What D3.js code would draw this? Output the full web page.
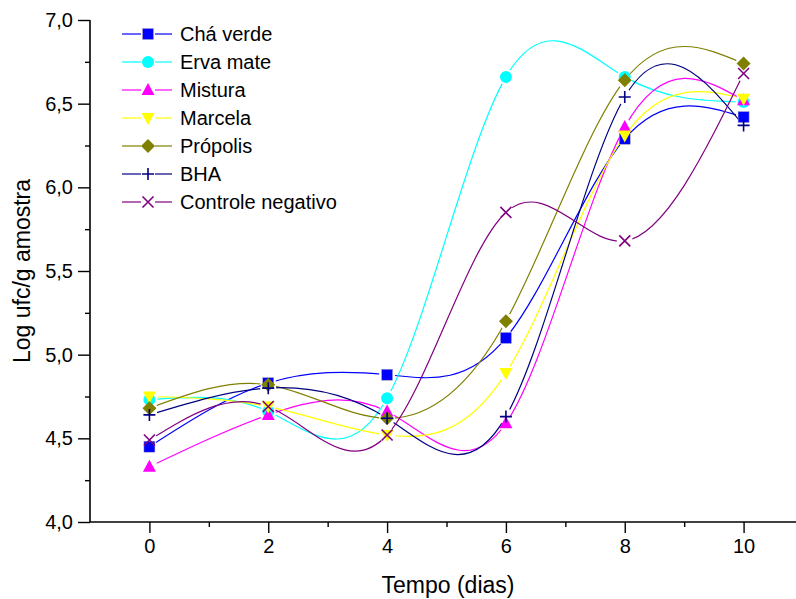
<!DOCTYPE html>
<html><head><meta charset="utf-8">
<script src="https://cdn.jsdelivr.net/npm/d3@7"></script>
<style>body{margin:0;background:#fff}svg{display:block}text{font-family:"Liberation Sans",Arial,sans-serif}</style>
</head><body>
<script>
const days = [0, 2, 4, 6, 8, 10];
const seriesNames = ["Chá verde","Erva mate","Mistura","Marcela","Própolis","BHA","Controle negativo"];
const chaVerde  = [4.45, 4.83, 4.88, 5.10, 6.29, 6.42];
const ervaMate  = [4.73, 4.66, 4.74, 6.66, 6.66, 6.51];
const mistura   = [4.33, 4.64, 4.66, 4.59, 6.36, 6.52];
const marcela   = [4.75, 4.69, 4.52, 4.89, 6.31, 6.53];
const propolis  = [4.68, 4.82, 4.62, 5.20, 6.64, 6.74];
const bha       = [4.64, 4.80, 4.62, 4.63, 6.54, 6.37];
const controle  = [4.49, 4.69, 4.52, 5.85, 5.68, 6.68];
const seriesValues = [chaVerde, ervaMate, mistura, marcela, propolis, bha, controle];
const colors = ["#0000FF","#00FFFF","#FF00FF","#FFFF00","#808000","#000080","#800080"];
const symbols = ["square","circle","triangle","itriangle","diamond","plus","cross"];
const xTicks = [0,2,4,6,8,10];
const yTicks = [4.0,4.5,5.0,5.5,6.0,6.5,7.0];

const W=796,H=599;
const svg=d3.select("body").append("svg").attr("width",W).attr("height",H);
const x=d3.scaleLinear().domain([-1,11]).range([90,803]);
const y=d3.scaleLinear().domain([4,7]).range([522,20]);
const fmt=d=>d3.format(".1f")(d).replace(".",",");

// axes
const yAx=svg.append("g").attr("transform","translate(90,0)")
  .call(d3.axisLeft(y).tickValues(yTicks).tickFormat(fmt).tickSize(12).tickPadding(5));
svg.append("g").attr("transform","translate(90,0)")
  .call(d3.axisLeft(y).tickValues(d3.range(4.25,7,0.5)).tickFormat("").tickSize(5))
  .select(".domain").remove();
const xAx=svg.append("g").attr("transform","translate(0,522)")
  .call(d3.axisBottom(x).tickValues(xTicks).tickFormat(d3.format("d")).tickSize(11).tickPadding(6));
svg.append("g").attr("transform","translate(0,522)")
  .call(d3.axisBottom(x).tickValues([1,3,5,7,9]).tickFormat("").tickSize(5))
  .select(".domain").remove();
svg.selectAll(".domain").attr("stroke","#000").attr("stroke-width",1.6);
svg.selectAll(".tick line").attr("stroke","#000").attr("stroke-width",1.4);
svg.selectAll(".tick text").attr("font-size",20).attr("fill","#000").style("font-family","Liberation Sans, Arial, sans-serif");
yAx.select(".domain").attr("d",`M0,${y(7)}V${y(4)}`);
xAx.select(".domain").attr("d",`M90,0H803`);

svg.append("text").attr("x",448).attr("y",593).attr("text-anchor","middle").attr("font-size",23).text("Tempo (dias)");
svg.append("text").attr("transform","translate(30,271) rotate(-90)").attr("text-anchor","middle").attr("font-size",23).text("Log ufc/g amostra");

// symbol drawing
function drawSymbol(g, type, cx, cy, color){
  if(type==="square") g.append("rect").attr("x",cx-5.5).attr("y",cy-5.5).attr("width",11).attr("height",11).attr("fill",color).attr("stroke","#aab").attr("stroke-width",0.5);
  else if(type==="circle") g.append("circle").attr("cx",cx).attr("cy",cy).attr("r",6).attr("fill",color);
  else if(type==="triangle") g.append("path").attr("d",`M${cx},${cy-7}L${cx+6.5},${cy+5}L${cx-6.5},${cy+5}Z`).attr("fill",color);
  else if(type==="itriangle") g.append("path").attr("d",`M${cx},${cy+7}L${cx+6.5},${cy-5}L${cx-6.5},${cy-5}Z`).attr("fill",color);
  else if(type==="diamond") g.append("path").attr("d",`M${cx},${cy-7}L${cx+7},${cy}L${cx},${cy+7}L${cx-7},${cy}Z`).attr("fill",color);
  else if(type==="plus") g.append("path").attr("d",`M${cx-6},${cy}H${cx+6}M${cx},${cy-6}V${cy+6}`).attr("stroke",color).attr("stroke-width",1.6).attr("fill","none");
  else if(type==="cross") g.append("path").attr("d",`M${cx-5.5},${cy-5.5}L${cx+5.5},${cy+5.5}M${cx+5.5},${cy-5.5}L${cx-5.5},${cy+5.5}`).attr("stroke",color).attr("stroke-width",1.6).attr("fill","none");
}

const defs=svg.append("defs");
const line=d3.line().x(d=>x(d[0])).y(d=>y(d[1])).curve(d3.curveNatural);
seriesValues.forEach((vals,i)=>{
  const pts=days.map((d,j)=>[d,vals[j]]);
  const m=defs.append("mask").attr("id","m"+i).attr("maskUnits","userSpaceOnUse").attr("x",0).attr("y",0).attr("width",W).attr("height",H);
  m.append("rect").attr("width",W).attr("height",H).attr("fill","#fff");
  pts.forEach(p=>m.append("circle").attr("cx",x(p[0])).attr("cy",y(p[1])).attr("r",8).attr("fill","#000"));
  svg.append("path").attr("d",line(pts)).attr("fill","none").attr("stroke",colors[i]).attr("stroke-width",1.2).attr("mask",`url(#m${i})`);
});
seriesValues.forEach((vals,i)=>{
  const g=svg.append("g");
  days.forEach((d,j)=>drawSymbol(g,symbols[i],x(d),y(vals[j]),colors[i]));
});

// legend
seriesNames.forEach((name,i)=>{
  const ly=34+i*28;
  const g=svg.append("g");
  g.append("line").attr("x1",122).attr("x2",141).attr("y1",ly).attr("y2",ly).attr("stroke",colors[i]).attr("stroke-width",1.2);
  g.append("line").attr("x1",155).attr("x2",172).attr("y1",ly).attr("y2",ly).attr("stroke",colors[i]).attr("stroke-width",1.2);
  drawSymbol(g,symbols[i],148,ly,colors[i]);
  g.append("text").attr("x",180).attr("y",ly+7).attr("font-size",20).text(name);
});
</script>
</body></html>
